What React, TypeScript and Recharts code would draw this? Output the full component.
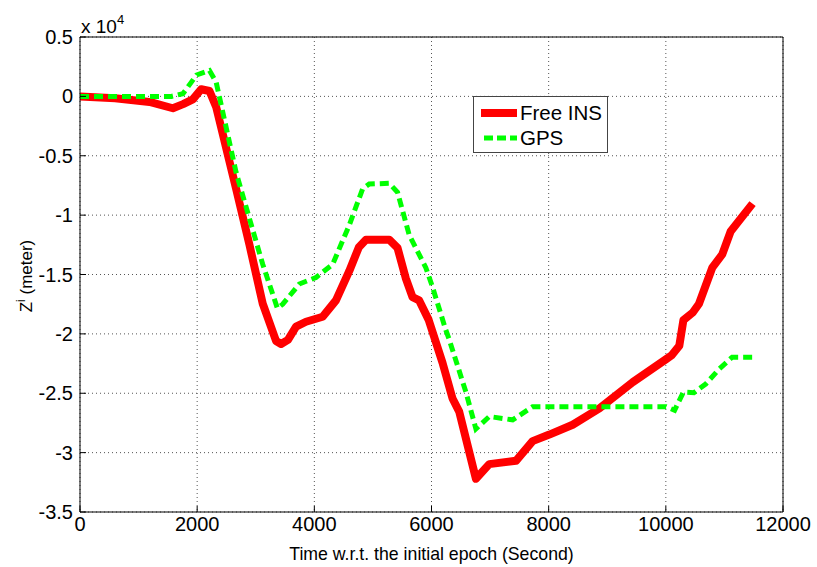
import React from "react";
import { LineChart, Line, XAxis, YAxis, CartesianGrid, Label, ReferenceLine } from "recharts";

// Free INS (red) — time in seconds, Z in meters
const insTime = [0, 600, 1187, 1585, 1760, 1926, 2068, 2210, 2324, 2665, 2892, 3119, 3347, 3432, 3550, 3688, 3858, 4142, 4369, 4597, 4760, 4881, 5278, 5420, 5560, 5676, 5790, 5950, 6188, 6359, 6473, 6758, 6986, 7442, 7726, 8011, 8410, 8866, 9436, 10006, 10100, 10230, 10300, 10460, 10567, 10793, 10963, 11105, 11480];
const insZ = [0, -150, -470, -1000, -650, -250, 600, 450, -880, -7790, -12490, -17460, -20600, -20850, -20500, -19390, -18980, -18560, -17180, -14700, -12700, -12070, -12070, -12760, -15300, -16910, -17180, -18800, -22430, -25440, -26550, -32200, -30970, -30690, -29030, -28480, -27650, -26270, -24060, -22130, -21800, -21000, -18840, -18200, -17460, -14420, -13310, -11380, -9030];

// GPS (green)
const gpsTime = [0, 1560, 1756, 1990, 2210, 2324, 2665, 2892, 3119, 3370, 3460, 3744, 4028, 4313, 4597, 4824, 4937, 5278, 5420, 5619, 5903, 6017, 6244, 6302, 6587, 6758, 6986, 7385, 7726, 10006, 10150, 10300, 10480, 10680, 10906, 11133, 11500];
const gpsZ = [0, 0, 220, 1800, 2180, 1200, -6410, -10280, -14140, -17850, -17500, -15800, -15250, -14140, -10830, -7790, -7380, -7320, -8070, -11660, -14420, -16050, -19670, -20470, -24890, -28000, -26960, -27240, -26130, -26130, -26430, -24900, -24950, -24230, -22980, -21960, -21960];

const xTicks = [0, 2000, 4000, 6000, 8000, 10000, 12000];
const yTicks = [5000, 0, -5000, -10000, -15000, -20000, -25000, -30000, -35000];

const seriesNames = ["Free INS", "GPS"];

const insData = insTime.map((t, i) => ({ x: t, y: insZ[i] }));
const gpsData = gpsTime.map((t, i) => ({ x: t, y: gpsZ[i] }));

const FONT = "'Liberation Sans', Arial, Helvetica, sans-serif";

const YLabel = () => (
  <text
    x={32}
    y={276}
    transform="rotate(-90, 32, 276)"
    textAnchor="middle"
    fontFamily={FONT}
    fontSize={17}
    fill="#000"
  >
    Z<tspan dy={-7} fontSize={12}>i</tspan>
    <tspan dy={7}> (meter)</tspan>
  </text>
);

const LegendBox = () => (
  <div
    style={{
      position: "absolute",
      left: 473,
      top: 96,
      width: 133,
      height: 55,
      border: "1px solid #444",
      background: "#fff",
    }}
  >
    <svg width={133} height={55} style={{ position: "absolute", left: 0, top: 0 }}>
      <line x1={7} y1={16} x2={43} y2={16} stroke="#ff0000" strokeWidth={8} />
      <line x1={10} y1={41} x2={43} y2={41} stroke="#00ff00" strokeWidth={5} strokeDasharray="9 4" />
      <text x={46} y={23} fontFamily={FONT} fontSize={20.5} fill="#000">{seriesNames[0]}</text>
      <text x={46} y={48} fontFamily={FONT} fontSize={20.5} fill="#000">{seriesNames[1]}</text>
    </svg>
  </div>
);

export default function App() {
  return (
    <div style={{ position: "absolute", left: 0, top: 0, width: 817, height: 567, background: "#fff" }}>
      <LineChart
        width={817}
        height={567}
        margin={{ top: 37, right: 34, bottom: 0, left: 0 }}
        style={{ fontFamily: FONT }}
      >
        <CartesianGrid stroke="#555" strokeDasharray="1 3" />
        <XAxis
          dataKey="x"
          type="number"
          domain={[0, 12000]}
          ticks={xTicks}
          allowDataOverflow
          height={55}
          tickSize={-6}
          tickMargin={11}
          stroke="#000"
          tick={{ fill: "#000", fontSize: 20, fontFamily: FONT }}
          interval={0}
        >
          <Label
            value="Time w.r.t. the initial epoch (Second)"
            position="insideBottom"
            offset={7}
            style={{ fontSize: 17.7, fontFamily: FONT, fill: "#000" }}
          />
        </XAxis>
        <YAxis
          type="number"
          domain={[-35000, 5000]}
          ticks={yTicks}
          width={80}
          tickSize={-6}
          tickMargin={13}
          stroke="#000"
          interval={0}
          tickFormatter={(v: number) => String(v / 10000)}
          tick={{ fill: "#000", fontSize: 20, fontFamily: FONT }}
          label={<YLabel />}
        />
        <ReferenceLine y={5000} stroke="#000" strokeWidth={1} ifOverflow="extendDomain" />
        <ReferenceLine x={12000} stroke="#000" strokeWidth={1} ifOverflow="extendDomain" />
        <Line
          data={insData}
          dataKey="y"
          name={seriesNames[0]}
          stroke="#ff0000"
          strokeWidth={8}
          dot={false}
          activeDot={false}
          isAnimationActive={false}
          strokeLinejoin="round"
        />
        <Line
          data={gpsData}
          dataKey="y"
          name={seriesNames[1]}
          stroke="#00ff00"
          strokeWidth={5}
          strokeDasharray="9 5"
          dot={false}
          activeDot={false}
          isAnimationActive={false}
        />
      </LineChart>
      <LegendBox />
      <div
        style={{
          position: "absolute",
          left: 81,
          top: 12,
          fontFamily: FONT,
          fontSize: 19,
          lineHeight: "20px",
          color: "#000",
          whiteSpace: "nowrap",
        }}
      >
        x 10<sup style={{ fontSize: 13, position: "relative", top: -2 }}>4</sup>
      </div>
    </div>
  );
}
